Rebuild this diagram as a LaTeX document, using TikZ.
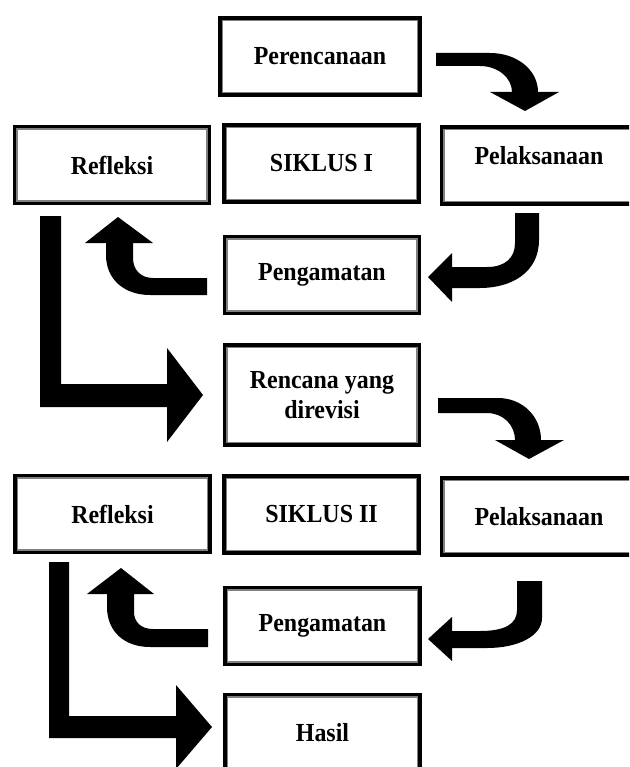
\documentclass[tikz,border=0pt]{standalone}
\usepackage{fontspec}
\setmainfont{Liberation Serif}[FakeStretch=0.92]
\tikzset{
  frame/.style={draw=black, line width=2.6pt, fill=white, inner sep=0pt,
    minimum width=146.25pt, minimum height=57.75pt, align=center,
    font=\bfseries\fontsize{19.5}{23}\selectfont},
  innerframe/.style={draw=black!50, line width=1.3pt},
  blockarrow/.style={fill=black, draw=none}
}
\begin{document}
\begin{tikzpicture}[x=0.75pt,y=-0.75pt]
\useasboundingbox (0,0) rectangle (629,767);
\clip (0,0) rectangle (629,767);
% boxes
\node[frame, minimum width=150pt] (per) at (320,56.5) {Perencanaan};
\node[frame] (ref1) at (112,165) {Refleksi};
\node[frame] (sik1) at (321.5,163.5) {SIKLUS I};
\node[frame, text depth=15pt] (pel1) at (539,165.5) {Pelaksanaan};
\node[frame] (pen1) at (322,275) {Pengamatan};
\node[frame, minimum height=75pt] (ren) at (322,395) {Rencana yang\\direvisi};
\node[frame] (ref2) at (112.5,514) {Refleksi};
\node[frame] (sik2) at (321.5,514.5) {SIKLUS II};
\node[frame] (pel2) at (539,516.5) {Pelaksanaan};
\node[frame] (pen2) at (322.5,626) {Pengamatan};
\node[frame] (has) at (322.5,733) {Hasil};
\foreach \n in {per,ref1,sik1,pel1,pen1,ren,ref2,sik2,pel2,pen2,has}
  \draw[innerframe] ([shift={(3.2pt,3.2pt)}]\n.south west) rectangle ([shift={(-3.2pt,-3.2pt)}]\n.north east);
% arrows
% Perencanaan -> Pelaksanaan I
\fill[blockarrow] (436,53) -- (490,53) .. controls (517,53) and (538,70) .. (538,92) -- (559,92) -- (525,111) -- (490,92) -- (512,92) .. controls (512,78) and (498,66) .. (480,66) -- (436,66) -- cycle;
% Pelaksanaan I -> Pengamatan I
\fill[blockarrow] (515,213) -- (539,213) -- (539,240) .. controls (539,272) and (512,288) .. (480,288) -- (452,288) -- (452,302) -- (428,277) -- (452,253) -- (452,267) -- (487,267) .. controls (505,267) and (515,258) .. (515,243) -- cycle;
% Pengamatan I -> Refleksi I
\fill[blockarrow] (207,278) -- (153,278) .. controls (141,278) and (133,270) .. (133,258) -- (133,243) -- (153,243) -- (118,217) -- (85,243) -- (106,243) -- (106,255) .. controls (106,280) and (125,295) .. (150,295) -- (207,295) -- cycle;
% Refleksi I -> Rencana
\fill[blockarrow] (40,216) -- (61,216) -- (61,384) -- (167,384) -- (167,348) -- (203,395) -- (167,442) -- (167,407) -- (40,407) -- cycle;
% Rencana -> Pelaksanaan II
\fill[blockarrow] (438,398) -- (498,398) .. controls (522,398) and (541,416) .. (541,440) -- (564,440) -- (529,459) -- (495,440) -- (515,440) .. controls (515,425) and (503,413) .. (487,413) -- (438,413) -- cycle;
% Pelaksanaan II -> Pengamatan II
\fill[blockarrow] (517,581) -- (542,581) -- (542,618) .. controls (542,636) and (518,648) .. (487,648) -- (452,648) -- (452,661) -- (428,639) -- (452,617) -- (452,631) -- (480,631) .. controls (505,631) and (517,624) .. (517,610) -- cycle;
% Pengamatan II -> Refleksi II
\fill[blockarrow] (208,629) -- (153,629) .. controls (141,629) and (134,622) .. (134,612) -- (134,594) -- (154,594) -- (121,568) -- (87,594) -- (107,594) -- (107,607) .. controls (107,632) and (125,647) .. (150,647) -- (208,647) -- cycle;
% Refleksi II -> Hasil
\fill[blockarrow] (49,562) -- (69,562) -- (69,716) -- (176,716) -- (176,685) -- (212,727) -- (176,769) -- (176,738) -- (49,738) -- cycle;
\end{tikzpicture}
\end{document}
